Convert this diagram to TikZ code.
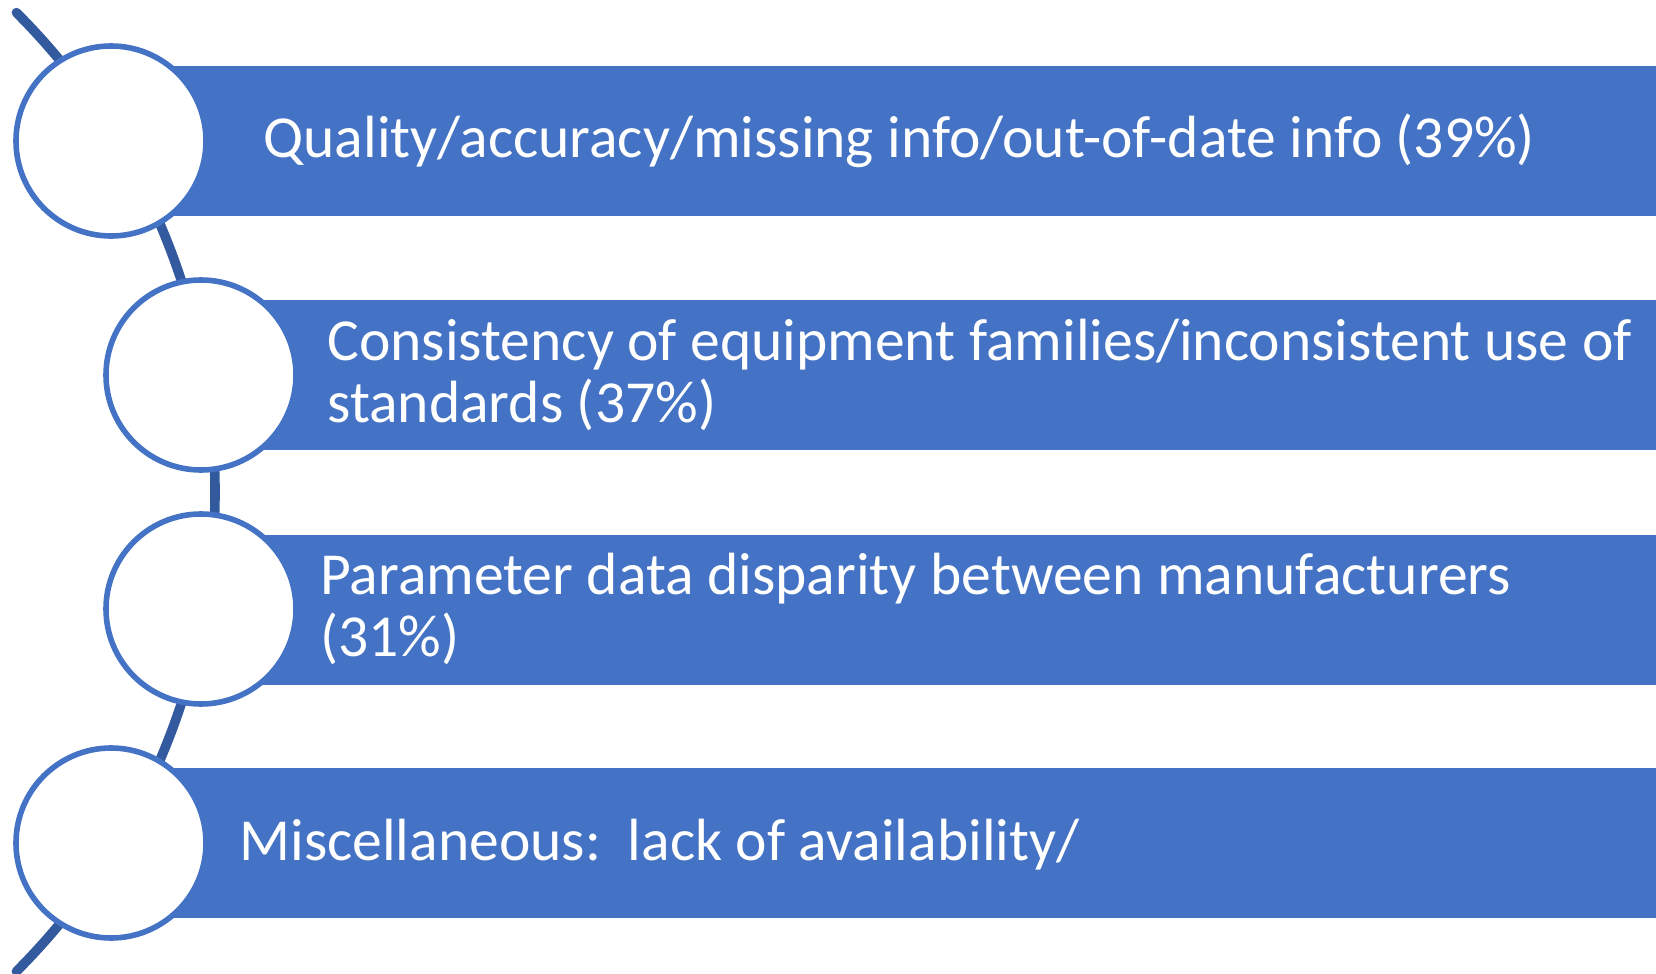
\documentclass[tikz,border=0pt]{standalone}
\usepackage{fontspec}
\setmainfont{Carlito}
\usepackage{tikz}

\definecolor{barblue}{HTML}{4472C4}
\definecolor{arcblue}{HTML}{335A9F}

\tikzset{
  bar/.style={fill=barblue},
  ring/.style={circle, draw=barblue, fill=white, line width=2.8pt, minimum size=95pt, inner sep=0pt},
  itemtext/.style={text=white, font=\fontsize{29.8}{31}\selectfont, inner sep=0pt, align=left}
}

\begin{document}
\begin{tikzpicture}[x=0.5pt,y=-0.5pt]
        \useasboundingbox (0,0) rectangle (1656,974);

        % Draw the backbone arc
        \coordinate (hub) at (-463,492);
        \draw[arcblue, line width=4.8pt, line cap=round] ([shift={(45:339pt)}]hub) arc[start angle=45, end angle=-45, radius=339pt];

        % Draw the bars
        \foreach \y in {141,375,610,843}
            \fill[bar] (150,\y-75) rectangle (1656,\y+75);

        % Draw the circles
        \node[ring] (c1) at (111,141) {};
        \node[ring] (c2) at (201,375) {};
        \node[ring] (c3) at (201,609) {};
        \node[ring] (c4) at (111,843) {};

        % Draw the texts
        \node[itemtext, anchor=base west] (t1) at (263,158) {Quality/accuracy/missing info/out-of-date info (39\%)};
        \node[itemtext, anchor=west] (t2) at (327,375) {Consistency of equipment families/inconsistent use of\\standards (37\%)};
        \node[itemtext, anchor=west] (t3) at (320,609) {Parameter data disparity between manufacturers\\(31\%)};
        \node[itemtext, anchor=base west] (t4) at (239,860) {Miscellaneous:\ \ lack of availability/};
    \end{tikzpicture}
\end{document}
